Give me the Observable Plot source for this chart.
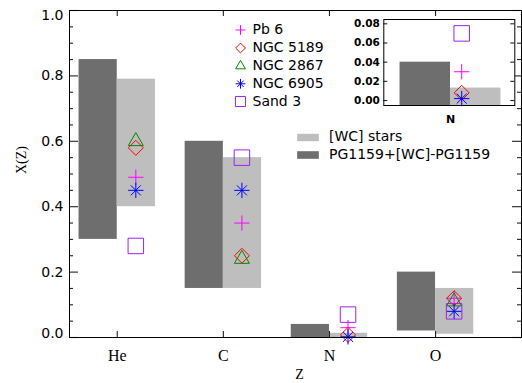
<!DOCTYPE html>
<html><head><meta charset="utf-8">
<script src="https://cdn.jsdelivr.net/npm/d3@7"></script>
<script src="https://cdn.jsdelivr.net/npm/@observablehq/plot@0.6"></script>
<style>
body{margin:0;background:#fff;}
#wrap{position:relative;width:522px;height:383px;overflow:hidden;background:#fff;}
#wrap svg{position:absolute;}
</style></head><body><div id="wrap"></div>
<script>
// ---- data ----
const elements = ["He", "C", "N", "O"];
const pgLow  = [0.30, 0.15, 0.00, 0.02];
const pgHigh = [0.85, 0.60, 0.04, 0.20];
const wcLow  = [0.40, 0.15, 0.00, 0.01];
const wcHigh = [0.79, 0.55, 0.013, 0.15];
const starNames = ["Pb 6", "NGC 5189", "NGC 2867", "NGC 6905", "Sand 3"];
const pb6     = [0.49, 0.35, 0.03, 0.12];
const ngc5189 = [0.58, 0.25, 0.008, 0.12];
const ngc2867 = [0.60, 0.24, null, 0.11];
const ngc6905 = [0.45, 0.45, 0.002, 0.08];
const sand3   = [0.28, 0.55, 0.07, 0.08];
const yTicks = [0, 0.2, 0.4, 0.6, 0.8, 1.0];
const yMinorTicks = [0.05,0.1,0.15,0.25,0.3,0.35,0.45,0.5,0.55,0.65,0.7,0.75,0.85,0.9,0.95];
const xTicks = [1, 2, 3, 4];
const insetTicks = [0, 0.02, 0.04, 0.06, 0.08];
const barLegend = ["[WC] stars", "PG1159+[WC]-PG1159"];

// ---- styles ----
const DARK = "#6e6e6e", LIGHT = "#bebebe";
const SANS = "DejaVu Sans", SERIF = "Liberation Serif";
const BW = 0.36, MOFF = 0.175, IOFF = 0.08;
const stars = [
  {name: starNames[0], vals: pb6,     color: "#ff00ff", kind: "plus"},
  {name: starNames[1], vals: ngc5189, color: "#ff0000", kind: "diamond"},
  {name: starNames[2], vals: ngc2867, color: "#008800", kind: "triangle"},
  {name: starNames[3], vals: ngc6905, color: "#0000ff", kind: "asterisk"},
  {name: starNames[4], vals: sand3,   color: "#a020f0", kind: "square"}
];

function symbolMarks(data, opts, kind, color, k) {
  const base = {stroke: color, fill: "none", strokeWidth: 1, ...opts};
  if (kind === "plus") return [Plot.dot(data, {...base, symbol: "plus", r: 5 * k})];
  if (kind === "diamond") return [Plot.dot(data, {...base, symbol: "diamond2", r: 6.76 * k})];
  if (kind === "triangle") return [Plot.dot(data, {...base, symbol: "triangle2", r: 7.16 * k})];
  if (kind === "square") return [Plot.dot(data, {...base, symbol: "square2", r: 9.87 * k})];
  return [Plot.dot(data, {...base, symbol: "plus", r: 5 * k}),
          Plot.dot(data, {...base, symbol: "times", r: 4.6 * k})];
}
// inward ticks drawn as short rules hugging the frame edges
const tickStyle = {stroke: "#222", strokeWidth: 1.1};
function yTickRules(ticks, len, plotW, sides) {
  const out = [];
  if (sides.includes("left")) out.push(Plot.ruleY(ticks, {y: d => d, insetRight: plotW - len, ...tickStyle}));
  if (sides.includes("right")) out.push(Plot.ruleY(ticks, {y: d => d, insetLeft: plotW - len, ...tickStyle}));
  return out;
}
function xTickRules(ticks, len, plotH, sides) {
  const out = [];
  if (sides.includes("bottom")) out.push(Plot.ruleX(ticks, {x: d => d, insetTop: plotH - len, ...tickStyle}));
  if (sides.includes("top")) out.push(Plot.ruleX(ticks, {x: d => d, insetBottom: plotH - len, ...tickStyle}));
  return out;
}

const pgRows = elements.map((e, i) => ({i: i + 1, lo: pgLow[i], hi: pgHigh[i]}));
const wcRows = elements.map((e, i) => ({i: i + 1, lo: wcLow[i], hi: wcHigh[i]}));
const starRows = s => elements.map((e, i) => ({i: i + 1, v: s.vals[i]})).filter(d => d.v != null);

// ---- main plot ----
const mL = 69, mT = 10, W = 522, H = 383, mR = 1, mB = 46;
const pW = W - mL - mR, pH = H - mT - mB;
const marks = [
  Plot.rect(pgRows, {x1: d => d.i - BW, x2: d => d.i, y1: "lo", y2: "hi", fill: DARK}),
  Plot.rect(wcRows, {x1: d => d.i, x2: d => d.i + BW, y1: "lo", y2: "hi", fill: LIGHT})
];
for (const s of stars) {
  marks.push(...symbolMarks(starRows(s), {x: d => d.i + MOFF, y: "v"}, s.kind, s.color, 1));
}
// axes
const yLab = {anchor: "left", tickSize: 0, tickPadding: 6, tickFormat: d3.format(".1f"),
              fontFamily: SANS, fontSize: 14, label: null};
marks.push(
  ...yTickRules(yMinorTicks, 4, pW, ["left", "right"]),
  ...yTickRules(yTicks, 9, pW, ["left", "right"]),
  ...xTickRules(xTicks, 6, pH, ["top", "bottom"]),
  Plot.axisY({...yLab, ticks: yTicks.slice(1, -1)}),
  Plot.axisY({...yLab, ticks: yTicks.slice(0, 1), dy: -4}),
  Plot.axisY({...yLab, ticks: yTicks.slice(-1), dy: 5}),
  Plot.axisX({ticks: xTicks, anchor: "bottom", tickSize: 0, tickPadding: 12,
              tickFormat: i => elements[i - 1], fontFamily: SERIF, fontSize: 16, label: null}),
  Plot.frame({stroke: "black"}),
  Plot.text(["X(Z)"], {x: null, y: null, text: d => d, frameAnchor: "left", dx: -48, rotate: -90,
                       fontFamily: SERIF, fontSize: 14}),
  Plot.text(["Z"], {x: null, y: null, text: d => d, frameAnchor: "bottom", dx: 4, dy: 41,
                    fontFamily: SERIF, fontSize: 14})
);
// star legend
const legRowY = [29.5, 47.5, 65.5, 83.3, 101];
stars.forEach((s, k) => {
  marks.push(...symbolMarks([0], {x: null, y: null, frameAnchor: "top-left", dx: 240 - mL, dy: legRowY[k] - mT},
                            s.kind, s.color, 0.65));
  marks.push(Plot.text([s.name], {x: null, y: null, text: d => d, frameAnchor: "top-left",
                                  dx: 252 - mL, dy: legRowY[k] - mT, textAnchor: "start", lineAnchor: "middle",
                                  fontFamily: SANS, fontSize: 14, letterSpacing: 0.6}));
});
// bar legend
const swX1 = 296.7, swX2 = 318.3;
const swY = [[133.3, 140.7], [150.7, 158.3]];
const swFill = [LIGHT, DARK];
const txtY = [136.5, 154.5];
barLegend.forEach((t, k) => {
  marks.push(Plot.frame({fill: swFill[k], stroke: "none",
    insetLeft: swX1 - mL, insetRight: (W - mR) - swX2, insetTop: swY[k][0] - mT, insetBottom: (H - mB) - swY[k][1]}));
  marks.push(Plot.text([t], {x: null, y: null, text: d => d, frameAnchor: "top-left",
    dx: 328.5 - mL, dy: txtY[k] - mT, textAnchor: "start", lineAnchor: "middle",
    fontFamily: SANS, fontSize: 14, letterSpacing: 0.5}));
});

const main = Plot.plot({
  width: W, height: H, marginLeft: mL, marginTop: mT, marginRight: mR, marginBottom: mB,
  x: {domain: [0.55, 4.81], label: null},
  y: {domain: [0, 1], label: null},
  style: {fontFamily: SANS, fontSize: "14px", background: "white", color: "black", overflow: "visible"},
  marks
});
main.style.left = "0px"; main.style.top = "0px";
document.getElementById("wrap").appendChild(main);

// ---- inset ----
const iLeft = 345, iTop = 8, iW = 175, iH = 125;
const iML = 383.3 - iLeft, iMR = iLeft + iW - 514.3, iMT = 19 - iTop, iMB = iTop + iH - 105;
const iPW = iW - iML - iMR;
const iDomY = [-0.0052, 0.0845];
const nIdx = elements.indexOf("N");
const iMarks = [
  Plot.frame({fill: "white", stroke: "none"}),
  Plot.rect([{i: nIdx + 1, hi: pgHigh[nIdx]}], {x1: d => d.i - BW, x2: d => d.i, y1: () => iDomY[0], y2: "hi", fill: DARK}),
  Plot.rect([{i: nIdx + 1, hi: wcHigh[nIdx]}], {x1: d => d.i, x2: d => d.i + BW, y1: () => iDomY[0], y2: "hi", fill: LIGHT})
];
for (const s of stars) {
  const rows = starRows(s).filter(d => d.i === nIdx + 1);
  iMarks.push(...symbolMarks(rows, {x: d => d.i + IOFF, y: "v"}, s.kind, s.color, 1));
}
iMarks.push(
  ...yTickRules(insetTicks, 4, iPW, ["left", "right"]),
  Plot.axisY({ticks: insetTicks, anchor: "left", tickSize: 0, tickPadding: 4, tickFormat: d3.format(".2f"),
              fontFamily: SANS, fontSize: 10.5, fontWeight: "bold", label: null}),
  Plot.axisX({ticks: [nIdx + 1], anchor: "bottom", tickSize: 0, tickPadding: 10,
              tickFormat: i => elements[i - 1], fontFamily: SANS, fontSize: 11, fontWeight: "bold", label: null}),
  Plot.frame({stroke: "black"})
);
const inset = Plot.plot({
  width: iW, height: iH, marginLeft: iML, marginRight: iMR, marginTop: iMT, marginBottom: iMB,
  x: {domain: [2.524, 3.459], label: null},
  y: {domain: iDomY, label: null},
  style: {fontFamily: SANS, fontSize: "11px", background: "transparent", color: "black", overflow: "visible"},
  marks: iMarks
});
inset.style.left = iLeft + "px"; inset.style.top = iTop + "px";
document.getElementById("wrap").appendChild(inset);
</script></body></html>
